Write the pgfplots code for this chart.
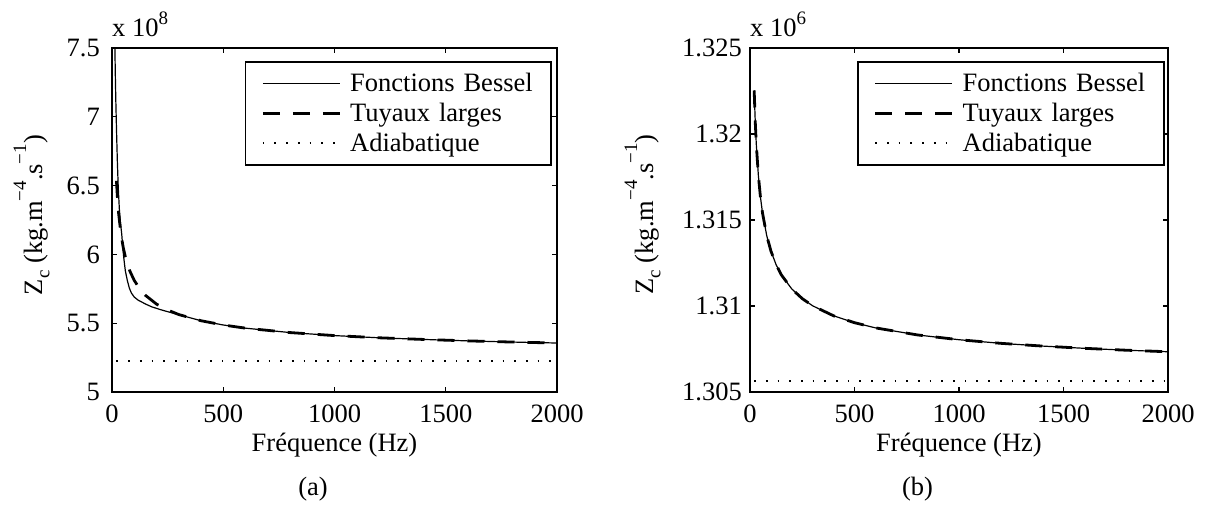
\documentclass[border=0pt]{standalone}
\usepackage{pgfplots}
\pgfplotsset{compat=1.18}
\usepackage{fontspec}
\setmainfont{Liberation Serif}
\newcommand\fs{\fontsize{26.5}{31}\selectfont}
\newcommand\sfs{\fontsize{19}{22}\selectfont}
\newcommand\zlab{Z\raisebox{-0.28em}{\sfs c} (kg.m\raisebox{0.6em}{\sfs −4}.s\raisebox{0.6em}{\sfs −1})}
\pgfplotsset{
  mystyle/.style={
    scale only axis, height=344pt,
    xmin=0, xmax=2000, xtick={0,500,1000,1500,2000},
    axis line style={line width=1.6pt},
    every tick/.style={black, line width=1.2pt},
    major tick length=5pt,
    tick align=inside,
    tick label style={font=\fs, inner sep=0pt},
    /pgf/number format/assume math mode=true,
    /pgf/number format/1000 sep={},
    scaled ticks=false,
    xticklabel style={anchor=north, yshift=-13pt},
    legend cell align=left,
    legend style={at={(1,1)}, anchor=north east, yshift=-13pt,
      draw=black, line width=1.6pt, fill=white,
      inner xsep=16pt, inner ysep=6.5pt, row sep=0pt, column sep=9pt,
      font=\fs,
      nodes={inner sep=0pt, text height=23.5pt, text depth=6.5pt, text width=185pt, align=left}},
    legend image code/.code={\draw[##1] (0pt,0pt) -- (77pt,0pt);},
  },
  bessel/.style={black, line width=1.2pt},
  larges/.style={black, line width=2.8pt, dash pattern=on 17pt off 13pt},
  adiab/.style={black, line width=1.7pt, dash pattern=on 1.7pt off 10pt},
}
\begin{document}
\begin{tikzpicture}
\useasboundingbox (0pt,0pt) rectangle (1211pt,-507pt);
% ---------------- (a) ----------------
\begin{axis}[mystyle, name=A, at={(112pt,-392pt)}, anchor=south west,
  width=445pt, ymin=5, ymax=7.5, ytick={5,5.5,6,6.5,7,7.5},
  yticklabel style={anchor=east, xshift=-12pt},
  legend style={xshift=-5pt}]
\addplot[bessel] coordinates {
(10,7.85) (13,7.50) (15,7.30) (17,7.13) (19,6.99) (21,6.86) (24,6.68) (28,6.49)
(33,6.33) (38,6.23) (43.6,6.15) (49,6.04) (54,5.96) (60,5.88) (69,5.81) (78,5.755)
(87,5.72) (100,5.69) (117,5.668) (150,5.64) (177,5.62) (215,5.60) (252,5.583)
(300,5.562) (400,5.518) (500,5.487) (600,5.464) (800,5.432) (1000,5.410)
(1200,5.394) (1400,5.382) (1600,5.3715) (1800,5.363) (2000,5.356)};
\addlegendentry{Fonctions Bessel}
\addplot[larges] coordinates {
(20,6.535) (25,6.397) (30,6.295) (40,6.152) (50,6.054) (60,5.982) (80,5.880)
(100,5.811) (125,5.749) (150,5.703) (200,5.639) (250,5.596) (300,5.563)
(400,5.518) (500,5.487) (600,5.464) (800,5.432) (1000,5.410) (1200,5.394)
(1400,5.382) (1600,5.3715) (1800,5.363) (2000,5.356)};
\addlegendentry{Tuyaux larges}
\addplot[adiab] coordinates {(20,5.224) (2000,5.224)};
\addlegendentry{Adiabatique}
\end{axis}
\node[anchor=base west, inner sep=0pt, font=\fs] at ([yshift=12pt]A.north west) {x 10\raisebox{0.42em}{\sfs 8}};
\node[anchor=base, inner sep=0pt, font=\fs] at ([yshift=-59.7pt]A.south) {Fréquence (Hz)};
\node[anchor=base, inner sep=0pt, font=\fs] at ([xshift=-21.5pt,yshift=-103pt]A.south) {(a)};
\node[rotate=90, anchor=base, inner sep=0pt, font=\fs] at ([xshift=-70pt,yshift=5pt]A.west) {\zlab};
% ---------------- (b) ----------------
\begin{axis}[mystyle, name=B, at={(750pt,-392pt)}, anchor=south west,
  width=418pt, ymin=1.305, ymax=1.325, ytick={1.305,1.31,1.315,1.32,1.325},
  yticklabel style={anchor=east, xshift=-8pt, /pgf/number format/precision=3},
  legend style={xshift=-3.5pt}]
\addplot[bessel] coordinates {
(20,1.32253) (25,1.32075) (30,1.31943) (40,1.31759) (50,1.31633) (60,1.31540)
(80,1.31409) (100,1.31320) (125,1.31240) (150,1.31181) (200,1.31099) (250,1.31043)
(300,1.31001) (400,1.30943) (500,1.30903) (600,1.30873) (800,1.30832) (1000,1.30804)
(1200,1.30783) (1400,1.30767) (1600,1.30754) (1800,1.30743) (2000,1.30734)};
\addlegendentry{Fonctions Bessel}
\addplot[larges] coordinates {
(20,1.32253) (25,1.32075) (30,1.31943) (40,1.31759) (50,1.31633) (60,1.31540)
(80,1.31409) (100,1.31320) (125,1.31240) (150,1.31181) (200,1.31099) (250,1.31043)
(300,1.31001) (400,1.30943) (500,1.30903) (600,1.30873) (800,1.30832) (1000,1.30804)
(1200,1.30783) (1400,1.30767) (1600,1.30754) (1800,1.30743) (2000,1.30734)};
\addlegendentry{Tuyaux larges}
\addplot[adiab] coordinates {(20,1.30565) (2000,1.30565)};
\addlegendentry{Adiabatique}
\end{axis}
\node[anchor=base west, inner sep=0pt, font=\fs] at ([yshift=12pt]B.north west) {x 10\raisebox{0.42em}{\sfs 6}};
\node[anchor=base, inner sep=0pt, font=\fs] at ([yshift=-59.7pt]B.south) {Fréquence (Hz)};
\node[anchor=base, inner sep=0pt, font=\fs] at ([xshift=-41.5pt,yshift=-103pt]B.south) {(b)};
\node[rotate=90, anchor=base, inner sep=0pt, font=\fs] at ([xshift=-97pt,yshift=5.5pt]B.west) {\zlab};
\end{tikzpicture}
\end{document}
